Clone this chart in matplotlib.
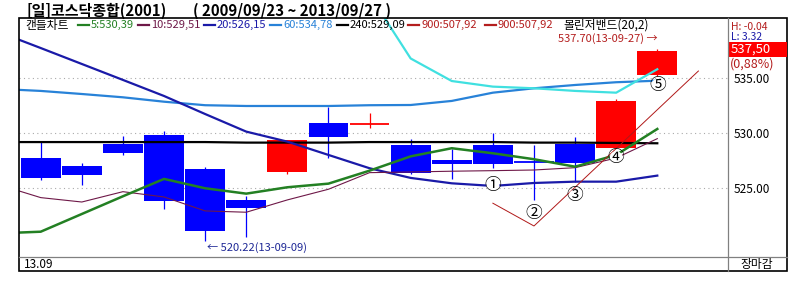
"""코스닥종합 일봉 캔들차트 (2013/09) 재현."""
import matplotlib

matplotlib.use("Agg")
import matplotlib.pyplot as plt
from matplotlib.lines import Line2D
from matplotlib.patches import Rectangle

plt.rcParams["font.family"] = ["Noto Sans CJK KR", "DejaVu Sans"]

W, H = 808, 292

# 일봉 16개 (왼쪽부터)
opens = [527.75, 527.03, 529.05, 529.85, 526.75, 523.94, 526.51, 530.96,
         530.85, 528.94, 527.58, 528.94, 527.37, 529.03, 528.69, 535.33]
highs = [529.30, 527.33, 529.78, 530.21, 526.90, 524.27, 529.39, 532.36,
         531.82, 529.45, 528.55, 530.00, 528.94, 529.69, 533.09, 537.70]
lows = [525.75, 525.30, 528.03, 523.15, 520.22, 520.60, 526.33, 527.78,
        530.45, 526.30, 525.87, 526.87, 523.94, 525.57, 528.66, 535.25]
closes = [525.96, 526.24, 528.18, 523.87, 521.15, 523.24, 529.39, 529.69,
          530.87, 526.42, 527.24, 527.18, 527.36, 527.33, 532.91, 537.50]

# 이동평균 (첫 값은 화면 왼쪽 밖 전일 값)
ma_x = list(range(-1, 16))
ma5 = [520.90, 521.05, 522.66, 524.27, 525.85, 525.00, 524.51, 525.09, 525.42,
       526.60, 527.90, 528.64, 528.18, 527.64, 526.96, 528.03, 530.39]
ma10 = [525.30, 524.15, 523.75, 524.69, 524.21, 522.94, 522.82, 523.94, 524.91,
        526.42, 526.48, 526.55, 526.60, 526.66, 526.87, 527.75, 529.51]
ma20 = [539.18, 537.75, 536.30, 534.85, 533.39, 531.75, 530.15, 529.24, 528.03,
        526.82, 525.94, 525.45, 525.21, 525.48, 525.60, 525.60, 526.15]
ma60 = [534.03, 533.85, 533.57, 533.27, 532.87, 532.55, 532.48, 532.48, 532.48,
        532.55, 532.57, 532.94, 533.69, 534.09, 534.39, 534.64, 534.78]
ma240 = [529.20, 529.20, 529.20, 529.20, 529.20, 529.20, 529.15, 529.15, 529.15,
         529.20, 529.20, 529.20, 529.20, 529.15, 529.15, 529.12, 529.09]

# 볼린저 상단 (하늘색)
bb_x = [8, 9, 10, 11, 12, 13, 14, 15]
bb_upper = [542.60, 536.80, 534.75, 534.24, 534.09, 533.85, 533.69, 535.82]

# 추세선 (갈색 가는 선)
trend_x = [11, 12, 16]
trend_y = [523.64, 521.57, 535.66]

# 원문자 표시
mark_labels = ["①", "②", "③", "④", "⑤"]
mark_x = [11, 12, 13, 14, 15]
mark_y = [525.21, 522.66, 524.30, 527.78, 534.33]

legend_labels = ["5:530,39", "10:529,51", "20:526,15", "60:534,78",
                 "240:529,09", "900:507,92", "900:507,92"]
legend_colors = ["#238023", "#6e1848", "#1a1aa8", "#2882d8",
                 "#000000", "#b41e1e", "#b41e1e"]
legend_px = [78, 138, 204, 270, 337, 408, 485]

y_ticks = [525, 530, 535]
price_now = "537,50"
change_pct = "(0,88%)"
hl_high = "H: -0.04"
hl_low = "L: 3.32"


def fx(x):
    return x / W


def fy(y):
    return 1 - y / H


def main():
    fig = plt.figure(figsize=(W / 100, H / 100), dpi=100)
    ax = fig.add_axes([fx(19), fy(257), fx(728) - fx(19), fy(18) - fy(257)])
    ax.set_xlim(-0.528, 16.72)
    ax.set_ylim(518.75, 540.48)
    for s in ax.spines.values():
        s.set_visible(False)
    ax.set_xticks([])
    ax.yaxis.tick_right()
    ax.set_yticks(y_ticks)
    ax.set_yticklabels([f"{v:.2f}" for v in y_ticks])
    ax.tick_params(axis="y", length=0, pad=4, labelsize=8.5)
    ax.grid(axis="y", color="#aaaaaa", linestyle=(0, (1, 3)), linewidth=0.8)
    ax.set_axisbelow(True)

    # 캔들: 상승 빨강, 하락 파랑
    for i, (o, h, l, c) in enumerate(zip(opens, highs, lows, closes)):
        col = "#ff0000" if c > o else "#0000ff"
        ax.vlines(i, l, h, color=col, linewidth=0.9, zorder=2)
        if abs(c - o) < 0.1:
            ax.hlines(c, i - 0.48, i + 0.48, color=col, linewidth=1.3, zorder=2)
        else:
            ax.bar(i, abs(c - o), bottom=min(o, c), width=0.97, color=col,
                   linewidth=0, zorder=2)

    ax.plot(ma_x, ma240, color="#000000", lw=1.6, zorder=3)
    ax.plot(ma_x, ma60, color="#2882d8", lw=1.6, zorder=3)
    ax.plot(ma_x, ma20, color="#1a1aa8", lw=1.6, zorder=3)
    ax.plot(ma_x, ma10, color="#6e1848", lw=0.8, zorder=3)
    ax.plot(ma_x, ma5, color="#238023", lw=1.8, zorder=3)
    ax.plot(bb_x, bb_upper, color="#40e0e0", lw=1.6, zorder=3)
    ax.plot(trend_x, trend_y, color="#b01818", lw=0.7, zorder=3)

    for t, x, y in zip(mark_labels, mark_x, mark_y):
        ax.text(x, y, t, fontsize=12, ha="center", va="center", zorder=5,
                bbox=dict(boxstyle="circle,pad=-0.12", fc="white", ec="none"))

    # 최고/최저 표시
    hi_i = highs.index(max(highs))
    lo_i = lows.index(min(lows))
    ax.annotate(f"{highs[hi_i]:.2f}(13-09-27) →", xy=(hi_i, highs[hi_i]),
                xytext=(0, 3), textcoords="offset points", ha="right",
                va="bottom", fontsize=8, color="#b41e1e")
    ax.annotate(f"← {lows[lo_i]:.2f}(13-09-09)", xy=(lo_i, lows[lo_i]),
                xytext=(1, -1), textcoords="offset points", ha="left",
                va="top", fontsize=8, color="#1e2896")

    # 테두리와 구분선
    fig.add_artist(Rectangle((fx(19), fy(271)), fx(787) - fx(19),
                             fy(18) - fy(271), transform=fig.transFigure,
                             fill=False, ec="black", lw=1.2))
    fig.add_artist(Line2D([fx(728), fx(728)], [fy(18), fy(271)],
                          color="#808080", lw=0.9))
    fig.add_artist(Line2D([fx(19), fx(787)], [fy(257), fy(257)],
                          color="#808080", lw=0.9))

    # 제목
    fig.text(fx(27), fy(10.5), "[일]코스닥종합(2001)", va="center",
             fontsize=10.8, fontweight="bold")
    fig.text(fx(193), fy(10.5), "( 2009/09/23 ~ 2013/09/27 )", va="center",
             fontsize=10.8, fontweight="bold")

    # 범례 줄
    fig.text(fx(25), fy(25), "캔들차트", va="center", fontsize=8.5)
    for lab, col, x in zip(legend_labels, legend_colors, legend_px):
        fig.add_artist(Line2D([fx(x), fx(x + 11)], [fy(25), fy(25)],
                              color=col, lw=1.6))
        fig.text(fx(x + 13), fy(25), lab, va="center", fontsize=8, color=col)
    fig.text(fx(563), fy(25), "볼린저밴드(20,2)", va="center", fontsize=8.5)

    # 오른쪽 정보
    fig.text(fx(731), fy(27.5), hl_high, va="center", fontsize=7.5,
             color="#b41e1e")
    fig.text(fx(731), fy(36.5), hl_low, va="center", fontsize=7.5,
             color="#1a1aa8")
    fig.add_artist(Rectangle((fx(728.5), fy(56.7)), fx(786.5) - fx(728.5),
                             fy(42.3) - fy(56.7), transform=fig.transFigure,
                             fc="#ff0000", ec="none"))
    fig.text(fx(731), fy(49.5), price_now, va="center", fontsize=9.5,
             color="white")
    fig.text(fx(730), fy(64.5), change_pct, va="center", fontsize=9,
             color="#b41e1e")

    # 하단
    fig.text(fx(24), fy(264.5), "13.09", va="center", fontsize=8.5)
    fig.text(fx(740), fy(264.5), "장마감", va="center", fontsize=8.5)

    fig.savefig("out.png", dpi=100)


if __name__ == "__main__":
    main()
